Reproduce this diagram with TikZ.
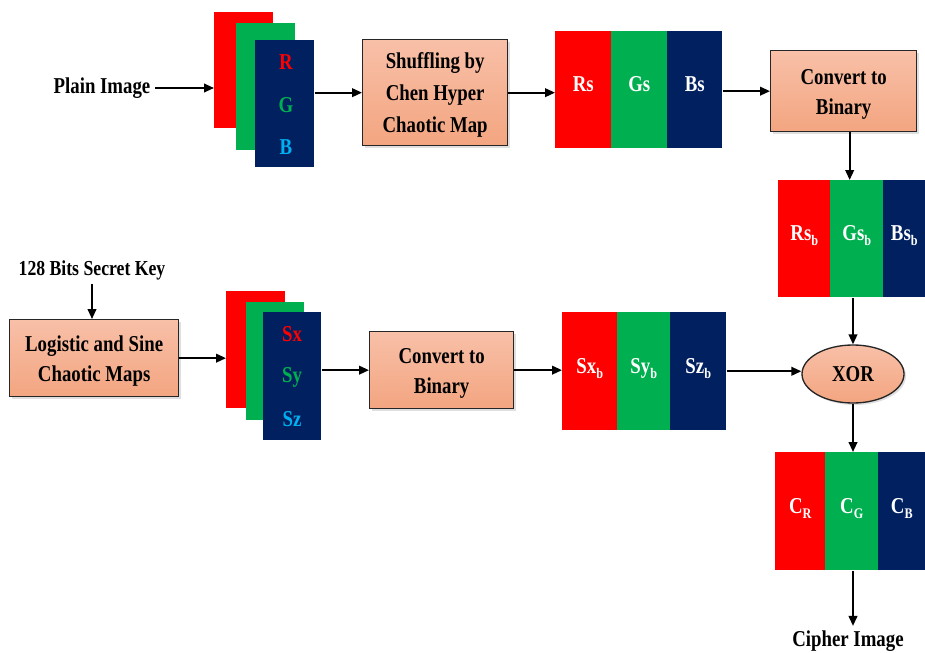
\documentclass[tikz,border=0pt]{standalone}
\usepackage{fontspec}
\setmainfont{Liberation Serif}[FakeStretch=0.83]
\usetikzlibrary{arrows.meta,shadows,shapes.geometric}
\newdimen\px \px=0.75pt
\definecolor{cred}{RGB}{255,0,0}
\definecolor{cgreen}{RGB}{0,176,80}
\definecolor{cnavy}{RGB}{0,32,96}
\definecolor{cblue}{RGB}{0,176,240}
\definecolor{salmtop}{RGB}{248,192,168}
\definecolor{salmbot}{RGB}{243,165,128}
\newcommand{\lowsub}[1]{\raisebox{-0.5ex}{\fontsize{11}{11}\selectfont #1}}
\newcommand{\toppad}{\rule{0pt}{16pt}}
\begin{document}
\begin{tikzpicture}[x=0.75pt,y=-0.75pt,
  lbl/.style={font=\fontsize{17}{23}\selectfont\bfseries, align=center},
  proc/.style={draw=black!85, line width=1pt, top color=salmtop, bottom color=salmbot,
     inner sep=0, lbl, anchor=north west,
     drop shadow={opacity=0.25,shadow xshift=1.5pt,shadow yshift=-1.5pt}},
  chan/.style={inner sep=0, anchor=north west, lbl, text=white, text height=12pt, text depth=9pt},
  arr/.style={-{Triangle[length=7.5pt,width=6.5pt]}, line width=1.4pt}]
\useasboundingbox (0,0) rectangle (925,653);

% top row
\node[lbl] (plain) at (102,88) {Plain Image};
\node[chan, fill=cred, minimum width=59\px, minimum height=116\px] (r1) at (214,12) {};
\node[chan, fill=cgreen, minimum width=59\px, minimum height=127\px] (g1) at (236,23) {};
\node[chan, fill=cnavy, minimum width=59\px, minimum height=127\px] (n1) at (255,40) {};
\node[lbl, text=cred] (lr) at (286,62) {R};
\node[lbl, text=cgreen] (lg) at (286,105) {G};
\node[lbl, text=cblue] (lb) at (286,147) {B};

\node[proc, font=\fontsize{17}{24}\selectfont\bfseries, minimum width=145\px, minimum height=106\px] (box1) at (362,39) {\toppad Shuffling by\\Chen Hyper\\Chaotic Map};

\node[chan, fill=cred, minimum width=56\px, minimum height=117\px] (s1r) at (555,31) {Rs};
\node[chan, fill=cgreen, minimum width=56\px, minimum height=117\px] (s1g) at (611,31) {Gs};
\node[chan, fill=cnavy, minimum width=55\px, minimum height=117\px] (s1b) at (667,31) {Bs};

\node[proc, minimum width=146\px, minimum height=81\px] (box2) at (770,50) {\toppad Convert to\\Binary};

\node[chan, fill=cred, minimum width=52\px, minimum height=117\px] (s2r) at (778,180) {Rs\lowsub{b}};
\node[chan, fill=cgreen, minimum width=53\px, minimum height=117\px] (s2g) at (830,180) {Gs\lowsub{b}};
\node[chan, fill=cnavy, minimum width=42\px, minimum height=117\px] (s2b) at (883,180) {Bs\lowsub{b}};

% bottom row
\node[lbl, font=\fontsize{16}{20}\selectfont\bfseries] (key) at (92,270) {128 Bits Secret Key};
\node[proc, minimum width=169\px, minimum height=77\px] (box4) at (9,319) {\toppad Logistic and Sine\\Chaotic Maps};

\node[chan, fill=cred, minimum width=59\px, minimum height=117\px] (r2) at (226,291) {};
\node[chan, fill=cgreen, minimum width=58\px, minimum height=118\px] (g2) at (246,302) {};
\node[chan, fill=cnavy, minimum width=58\px, minimum height=128\px] (n2) at (263,312) {};
\node[lbl, text=cred] (lx) at (292,334) {Sx};
\node[lbl, text=cgreen] (ly) at (292,377) {Sy};
\node[lbl, text=cblue] (lz) at (292,419) {Sz};

\node[proc, minimum width=144\px, minimum height=77\px] (box3) at (369,331) {\toppad Convert to\\Binary};

\node[chan, fill=cred, minimum width=55\px, minimum height=118\px] (s3r) at (562,312) {Sx\lowsub{b}};
\node[chan, fill=cgreen, minimum width=53\px, minimum height=118\px] (s3g) at (617,312) {Sy\lowsub{b}};
\node[chan, fill=cnavy, minimum width=56\px, minimum height=118\px] (s3b) at (670,312) {Sz\lowsub{b}};

\node[ellipse, draw=black!85, line width=1pt, top color=salmtop, bottom color=salmbot,
  minimum width=102\px, minimum height=58\px, inner sep=0, lbl,
  drop shadow={opacity=0.25,shadow xshift=1.5pt,shadow yshift=-1.5pt}] (xor) at (853,374) {XOR};

\node[chan, fill=cred, minimum width=50\px, minimum height=118\px] (s4r) at (775,452) {C\lowsub{R}};
\node[chan, fill=cgreen, minimum width=53\px, minimum height=118\px] (s4g) at (825,452) {C\lowsub{G}};
\node[chan, fill=cnavy, minimum width=47\px, minimum height=118\px] (s4b) at (878,452) {C\lowsub{B}};

\node[lbl] (cipher) at (848,641) {Cipher Image};

% connectors
\draw[arr] (plain.east) -- (plain.east -| r1.west);
\draw[arr] (n1.east |- box1.west) -- (box1.west);
\draw[arr] (box1.east) -- (box1.east -| s1r.west);
\draw[arr] (s1b.east |- box2.west) -- (box2.west);
\draw[arr] ([xshift=6\px]box2.south) -- ([xshift=6\px]box2.south |- s2g.north);
\draw[arr] (xor.north |- s2g.south) -- (xor.north);
\draw[arr] (key.south) -- (key.south |- box4.north);
\draw[arr] (box4.east) -- (box4.east -| r2.west);
\draw[arr] (n2.east |- box3.west) -- (box3.west);
\draw[arr] (box3.east) -- (box3.east -| s3r.west);
\draw[arr] (s3b.east) -- (s3b.east -| xor.west);
\draw[arr] (xor.south) -- (xor.south |- s4g.north);
\draw[arr] (xor.south |- s4g.south) -- (xor.south |- cipher.north);
\end{tikzpicture}
\end{document}
